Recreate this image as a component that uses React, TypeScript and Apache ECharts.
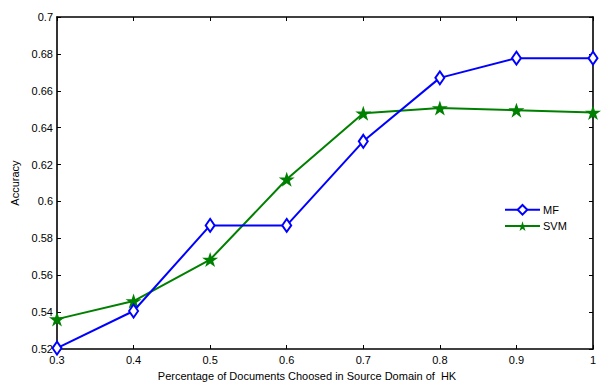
import React, { useEffect, useRef } from "react";
import * as echarts from "echarts";

const xValues = [0.3, 0.4, 0.5, 0.6, 0.7, 0.8, 0.9, 1.0];
const mfValues = [0.5205, 0.5406, 0.587, 0.587, 0.6326, 0.667, 0.6777, 0.6777];
const svmValues = [0.5362, 0.546, 0.5685, 0.612, 0.6478, 0.6507, 0.6495, 0.6482];
const seriesNames = ["MF", "SVM"];
const xTitle = "Percentage of Documents Choosed in Source Domain of  HK";
const yTitle = "Accuracy";

const STAR =
  "path://M50 0 L61.2 34.5 L97.6 34.5 L68.2 55.9 L79.4 90.5 L50 69.1 L20.6 90.5 L31.8 55.9 L2.4 34.5 L38.8 34.5 Z";

const FONT = "'Liberation Sans', Arial, Helvetica, sans-serif";

const fmt = (v: number) => String(Number(v.toFixed(2)));

export default function App() {
  const ref = useRef<HTMLDivElement>(null);
  useEffect(() => {
    if (!ref.current) return;
    const chart = echarts.init(ref.current, undefined, { renderer: "svg" });
    const axisLine = { show: true, lineStyle: { color: "#000", width: 1.6 } };
    const tick = { show: true, inside: true, length: 4, lineStyle: { color: "#000" } };
    chart.setOption({
      animation: false,
      backgroundColor: "#fff",
      textStyle: { fontFamily: FONT },
      grid: { left: 57, right: 12, top: 17, bottom: 36, containLabel: false },
      legend: {
        left: 499,
        top: 199,
        orient: "vertical",
        itemWidth: 35,
        itemHeight: 12,
        itemGap: 5,
        textStyle: { fontFamily: FONT, fontSize: 11, color: "#000", padding: [0, 0, 0, -2] },
        data: seriesNames,
      },
      xAxis: [
        {
          type: "value",
          min: 0.3,
          max: 1,
          interval: 0.1,
          position: "bottom",
          axisLine,
          axisTick: tick,
          splitLine: { show: false },
          axisLabel: { color: "#000", fontSize: 11, fontFamily: FONT, margin: 5, formatter: fmt },
          name: xTitle,
          nameLocation: "middle",
          nameGap: 21,
          nameTextStyle: { color: "#000", fontSize: 11, fontFamily: FONT, padding: [0, 36, 0, 0] },
        },
        {
          type: "value",
          min: 0.3,
          max: 1,
          interval: 0.1,
          position: "top",
          axisLine,
          axisTick: tick,
          splitLine: { show: false },
          axisLabel: { show: false },
        },
      ],
      yAxis: [
        {
          type: "value",
          min: 0.52,
          max: 0.7,
          interval: 0.02,
          position: "left",
          axisLine,
          axisTick: tick,
          splitLine: { show: false },
          axisLabel: { color: "#000", fontSize: 11, fontFamily: FONT, margin: 4, formatter: fmt },
          name: yTitle,
          nameLocation: "middle",
          nameRotate: 90,
          nameGap: 31,
          nameTextStyle: { color: "#000", fontSize: 11, fontFamily: FONT },
        },
        {
          type: "value",
          min: 0.52,
          max: 0.7,
          interval: 0.02,
          position: "right",
          axisLine,
          axisTick: tick,
          splitLine: { show: false },
          axisLabel: { show: false },
        },
      ],
      series: [
        {
          name: seriesNames[0],
          type: "line",
          data: xValues.map((x, i) => [x, mfValues[i]]),
          symbol: "diamond",
          symbolSize: [9, 13],
          showAllSymbol: true,
          lineStyle: { color: "#0000ff", width: 2 },
          itemStyle: { color: "#fff", borderColor: "#0000ff", borderWidth: 2 },
          z: 3,
        },
        {
          name: seriesNames[1],
          type: "line",
          data: xValues.map((x, i) => [x, svmValues[i]]),
          symbol: STAR,
          symbolSize: [16, 15],
          showAllSymbol: true,
          lineStyle: { color: "#008000", width: 2 },
          itemStyle: { color: "#008000", borderColor: "#008000", borderWidth: 0 },
          z: 2,
        },
      ],
    });
    return () => chart.dispose();
  }, []);
  return <div ref={ref} style={{ width: 605, height: 386, position: "absolute", left: 0, top: 0 }} />;
}
